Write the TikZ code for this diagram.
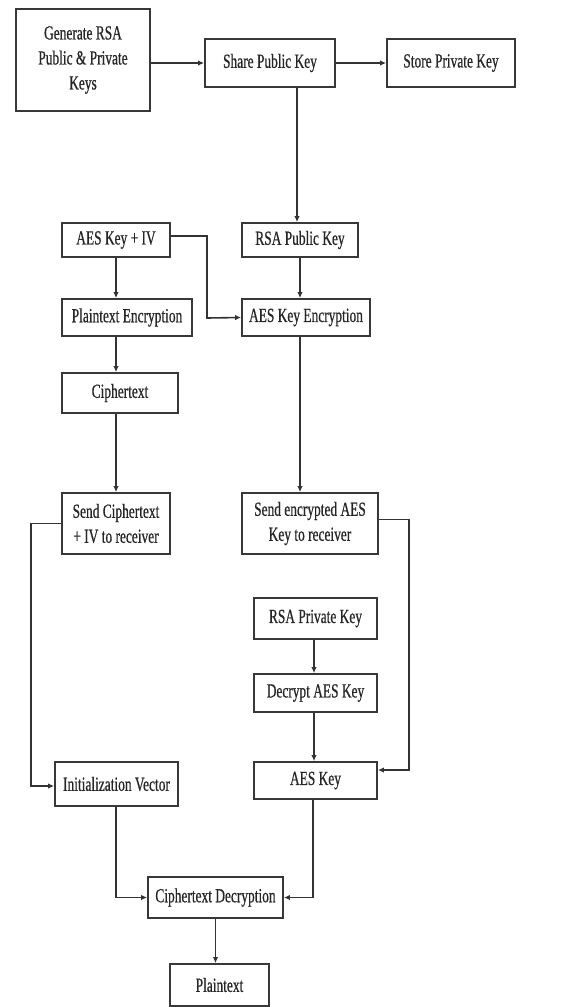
\documentclass[tikz,border=0pt]{standalone}
\usepackage{fontspec}
\setmainfont{Liberation Serif}[FakeStretch=0.67,FakeBold=0.6]
\usetikzlibrary{arrows.meta}
\tikzset{
  box/.style={draw=black!78, line width=1.8pt, inner sep=0pt, align=center,
    font=\fontsize{20}{25}\selectfont, text=black!85},
  conn/.style={draw=black!80, line width=1.6pt},
  arr/.style={conn, -{Latex[length=6pt,width=5.5pt]}}
}
\newcommand{\bx}[6]{\node[box, minimum width=#4pt, minimum height=#5pt] (#1) at (#2,#3) {#6};}
\begin{document}
\begin{tikzpicture}[x=1pt,y=-1pt]
\useasboundingbox (0,0) rectangle (562,1007);
\bx{gen}{83}{60}{134}{102}{\fontsize{20}{28}\selectfont Generate RSA\\Public \& Private\\Keys}
\bx{share}{270}{63}{130}{48}{Share Public Key}
\bx{store}{451}{63}{128}{48}{Store Private Key}
\bx{aesiv}{116}{240}{108}{34}{AES Key + IV}
\bx{rsapub}{300}{240}{116}{34}{RSA Public Key}
\bx{ptenc}{127}{317.5}{130}{37}{Plaintext Encryption}
\bx{aesenc}{306}{317.5}{128}{37}{AES Key Encryption}
\bx{ctext}{120}{393}{116}{40}{Ciphertext}
\bx{sendct}{116}{523.5}{108}{61}{Send Ciphertext\\+ IV to receiver}
\bx{sendkey}{310}{523.5}{136}{61}{Send encrypted AES\\Key to receiver}
\bx{rsapriv}{315.5}{618.5}{123}{41}{RSA Private Key}
\bx{decrypt}{315.5}{693}{123}{38}{Decrypt AES Key}
\bx{ivec}{116.5}{784}{123}{44}{Initialization Vector}
\bx{aeskey}{315.5}{780.5}{123}{37}{AES Key}
\bx{ctdec}{215.5}{897.5}{135}{41}{Ciphertext Decryption}
\bx{ptext}{219.5}{985}{99}{42}{Plaintext}

\draw[arr] (gen.east |- share.west) -- (share.west);
\draw[arr] (share.east) -- (store.west);
\draw[arr] ([xshift=-3pt]share.south -| rsapub.north) -- ([xshift=-3pt]rsapub.north);
\draw[arr] (aesiv.south) -- (aesiv.south |- ptenc.north);
\draw[arr] ([yshift=4pt]aesiv.east) -| (207,318) -- (aesenc.west);
\draw[arr] (rsapub.south) -- (rsapub.south |- aesenc.north);
\draw[arr] (aesiv.south |- ptenc.south) -- (aesiv.south |- ctext.north);
\draw[arr] (aesiv.south |- ctext.south) -- (sendct.north);
\draw[arr] (rsapub.south |- aesenc.south) -- (rsapub.south |- sendkey.north);
\draw[arr] (sendct.west) -| (31,786) -- (ivec.west |- 0,786);
\draw[arr] ([yshift=4pt]sendkey.east) -| (409,770) -- (aeskey.east |- 0,770);
\draw[arr] ([xshift=-1.5pt]rsapriv.south) -- ([xshift=-1.5pt]decrypt.north);
\draw[arr] ([xshift=-1.5pt]decrypt.south) -- ([xshift=-1.5pt]aeskey.north);
\draw[arr] ([xshift=-0.5pt]ivec.south) |- (ctdec.west);
\draw[arr] ([xshift=-2.5pt]aeskey.south) |- (ctdec.east);
\draw[arr] (ctdec.south) -- (ctdec.south |- ptext.north);
\end{tikzpicture}
\end{document}
